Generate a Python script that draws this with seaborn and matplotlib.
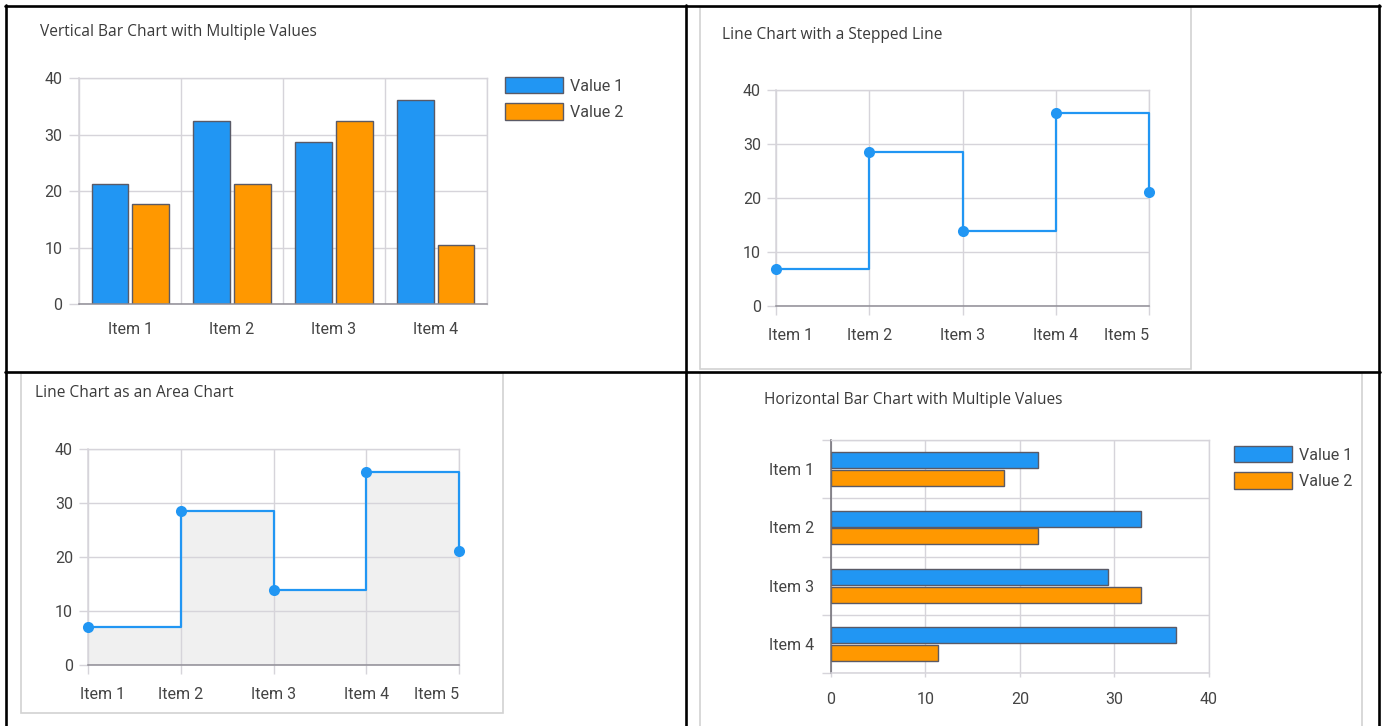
import numpy as np
import pandas as pd
import matplotlib
matplotlib.use("Agg")
import matplotlib.pyplot as plt
from matplotlib.lines import Line2D
from matplotlib.patches import Rectangle, Patch
from matplotlib.transforms import ScaledTranslation
import seaborn as sns

# ---------------- data ----------------
bar_items = ["Item 1", "Item 2", "Item 3", "Item 4"]
series_names = ["Value 1", "Value 2"]
vbar_value1 = [21.3, 32.4, 28.7, 36.1]
vbar_value2 = [17.7, 21.3, 32.4, 10.4]
hbar_value1 = [21.9, 32.8, 29.3, 36.5]
hbar_value2 = [18.3, 21.9, 32.8, 11.3]
step_items = ["Item 1", "Item 2", "Item 3", "Item 4", "Item 5"]
step_values = [6.8, 28.5, 13.8, 35.7, 21.2]
area_values = [7.0, 28.6, 13.9, 35.8, 21.2]
value_ticks = [0, 10, 20, 30, 40]
titles = ["Vertical Bar Chart with Multiple Values",
          "Line Chart with a Stepped Line",
          "Line Chart as an Area Chart",
          "Horizontal Bar Chart with Multiple Values"]

# ---------------- style ----------------
BLUE = "#2196F3"
ORANGE = "#FF9800"
EDGE = "#5a5a66"
GRID = "#d6d4da"
AXIS = "#8e8c94"
DARKAXIS = "#6c6a72"
TEXT = "#444444"
TITLE = "#3a3a3a"
FS_TICK = 11.5
FS_TITLE = 11.2

sns.set_theme(style="white")
plt.rcParams["font.family"] = ["Roboto", "DejaVu Sans"]
plt.rcParams["text.color"] = TEXT
plt.rcParams["xtick.color"] = TEXT
plt.rcParams["ytick.color"] = TEXT

W, H = 1384, 726
DPI = 100
fig = plt.figure(figsize=(W / DPI, H / DPI), dpi=DPI)
fig.patch.set_facecolor("white")


def rect(l, t, r, b):
    return [l / W, 1 - b / H, (r - l) / W, (b - t) / H]


def px(v):
    return v * 72.0 / DPI


def style_spines(ax, bottom=AXIS, left=GRID):
    for s in ["top", "right"]:
        ax.spines[s].set_color(GRID)
        ax.spines[s].set_linewidth(1)
    ax.spines["bottom"].set_color(bottom)
    ax.spines["bottom"].set_linewidth(1.1)
    ax.spines["left"].set_color(left)
    ax.spines["left"].set_linewidth(1.1)
    ax.set_axisbelow(True)


# ---------------- panel frames & table ----------------
def frame(x1, y1, x2, y2):
    fig.add_artist(Rectangle((x1 / W, 1 - y2 / H), (x2 - x1) / W, (y2 - y1) / H,
                             transform=fig.transFigure, fill=False,
                             ec="#d2d2d2", lw=1.2, zorder=0))


frame(700, 7, 1191, 369)
frame(21, 373, 503, 713)
frame(700, 373, 1362, 740)


def tline(x1, y1, x2, y2):
    fig.add_artist(Line2D([x1 / W, x2 / W], [1 - y1 / H, 1 - y2 / H],
                          transform=fig.transFigure, color="black", lw=1.9,
                          zorder=10))


tline(5, 6, 1380, 6)
tline(6, 5, 6, 726)
tline(685.5, 5, 685.5, 726)
tline(5, 372, 1380, 372)
tline(1379, 5, 1379, 726)

# titles
title_kw = dict(fontsize=FS_TITLE, color=TITLE, va="center", ha="left",
                family=["Open Sans", "DejaVu Sans"])
fig.text(40 / W, 1 - 32 / H, titles[0], **title_kw)
fig.text(722 / W, 1 - 35 / H, titles[1], **title_kw)
fig.text(35 / W, 1 - 393 / H, titles[2], **title_kw)
fig.text(764 / W, 1 - 400 / H, titles[3], **title_kw)

legend_handles = [Patch(facecolor=c, edgecolor=EDGE, lw=1) for c in [BLUE, ORANGE]]


def add_legend(ax, x, y):
    ax.legend(legend_handles, series_names, loc="upper left",
              bbox_to_anchor=(x / W, 1 - y / H), bbox_transform=fig.transFigure,
              frameon=False, handlelength=3.6, handleheight=1.2,
              labelspacing=0.6, handletextpad=0.45, borderpad=0,
              borderaxespad=0, fontsize=FS_TICK, labelcolor=TEXT)


# ---------------- panel 1: vertical bars ----------------
df_v = pd.DataFrame({
    "item": bar_items * 2,
    "series": [s for s in series_names for _ in bar_items],
    "value": vbar_value1 + vbar_value2,
})
ax1 = fig.add_axes(rect(79.3, 78, 486.6, 304.3))
sns.barplot(data=df_v, x="item", y="value", hue="series", palette=[BLUE, ORANGE],
            width=0.8, gap=0.1, saturation=1, linewidth=1, edgecolor=EDGE,
            ax=ax1, legend=False)
ax1.set_xlim(-0.5, len(bar_items) - 0.5)
ax1.set_ylim(0, 40)
ax1.set_yticks(value_ticks)
ax1.set_xticks(np.arange(-0.5, len(bar_items), 1), minor=True)
ax1.grid(True, which="minor", axis="x", color=GRID, lw=1)
ax1.grid(True, which="major", axis="y", color=GRID, lw=1)
ax1.tick_params(axis="x", which="major", length=0, pad=px(18), labelsize=FS_TICK)
ax1.tick_params(axis="x", which="minor", length=px(10), color=GRID, width=1)
ax1.tick_params(axis="y", which="major", length=px(10), color=GRID, width=1,
                pad=px(7), labelsize=FS_TICK, left=True)
ax1.set_xlabel("")
ax1.set_ylabel("")
style_spines(ax1)
add_legend(ax1, 505, 77)

# ---------------- panels 2 & 3: stepped lines ----------------
def step_panel(r, values, fill):
    ax = fig.add_axes(r)
    pos = np.arange(len(step_items))
    df = pd.DataFrame({"pos": pos, "value": values})
    if fill:
        ax.fill_between(pos, values, step="post", color="#f0f0f0", zorder=0.3, lw=0)
    sns.lineplot(data=df, x="pos", y="value", drawstyle="steps-post", color=BLUE,
                 lw=1.6, marker="o", markersize=8, markeredgewidth=0,
                 markerfacecolor=BLUE, ax=ax, clip_on=False, zorder=3)
    ax.set_xlim(0, len(step_items) - 1)
    ax.set_ylim(0, 40)
    ax.set_yticks(value_ticks)
    ax.set_xticks(pos, step_items)
    ax.grid(True, which="major", axis="both", color=GRID, lw=1)
    ax.tick_params(axis="x", length=px(9), color=GRID, width=1, pad=px(13),
                   labelsize=FS_TICK, bottom=True)
    ax.tick_params(axis="y", length=px(9), color=GRID, width=1, pad=px(6),
                   labelsize=FS_TICK, left=True)
    ax.set_xlabel("")
    ax.set_ylabel("")
    style_spines(ax)
    labs = ax.get_xticklabels()
    labs[0].set_ha("left")
    labs[0].set_transform(labs[0].get_transform() +
                          ScaledTranslation(-8 / DPI, 0, fig.dpi_scale_trans))
    labs[-1].set_ha("right")
    return ax


ax2 = step_panel(rect(776, 90, 1149, 306), step_values, False)
ax3 = step_panel(rect(88, 449, 459.3, 665.3), area_values, True)

# ---------------- panel 4: horizontal bars ----------------
df_h = pd.DataFrame({
    "item": bar_items * 2,
    "series": [s for s in series_names for _ in bar_items],
    "value": hbar_value1 + hbar_value2,
})
ax4 = fig.add_axes(rect(831, 440, 1208.7, 673.3))
sns.barplot(data=df_h, x="value", y="item", hue="series", orient="h",
            palette=[BLUE, ORANGE], width=0.6, gap=0.08, saturation=1,
            linewidth=1, edgecolor=EDGE, ax=ax4, legend=False)
ax4.set_xlim(0, 40)
ax4.set_ylim(len(bar_items) - 0.5, -0.5)
ax4.set_xticks(value_ticks)
ax4.set_yticks(np.arange(-0.5, len(bar_items), 1), minor=True)
ax4.grid(True, which="minor", axis="y", color=GRID, lw=1)
ax4.grid(True, which="major", axis="x", color=GRID, lw=1)
ax4.tick_params(axis="y", which="major", length=0, pad=px(17), labelsize=FS_TICK)
ax4.tick_params(axis="y", which="minor", length=px(9), color=GRID, width=1, left=True)
ax4.tick_params(axis="x", which="major", length=px(4), color=GRID, width=1,
                pad=px(15), labelsize=FS_TICK, bottom=True)
ax4.set_xlabel("")
ax4.set_ylabel("")
style_spines(ax4, bottom=GRID, left=DARKAXIS)
add_legend(ax4, 1234, 446)

fig.savefig("out.png", dpi=DPI, facecolor="white")
